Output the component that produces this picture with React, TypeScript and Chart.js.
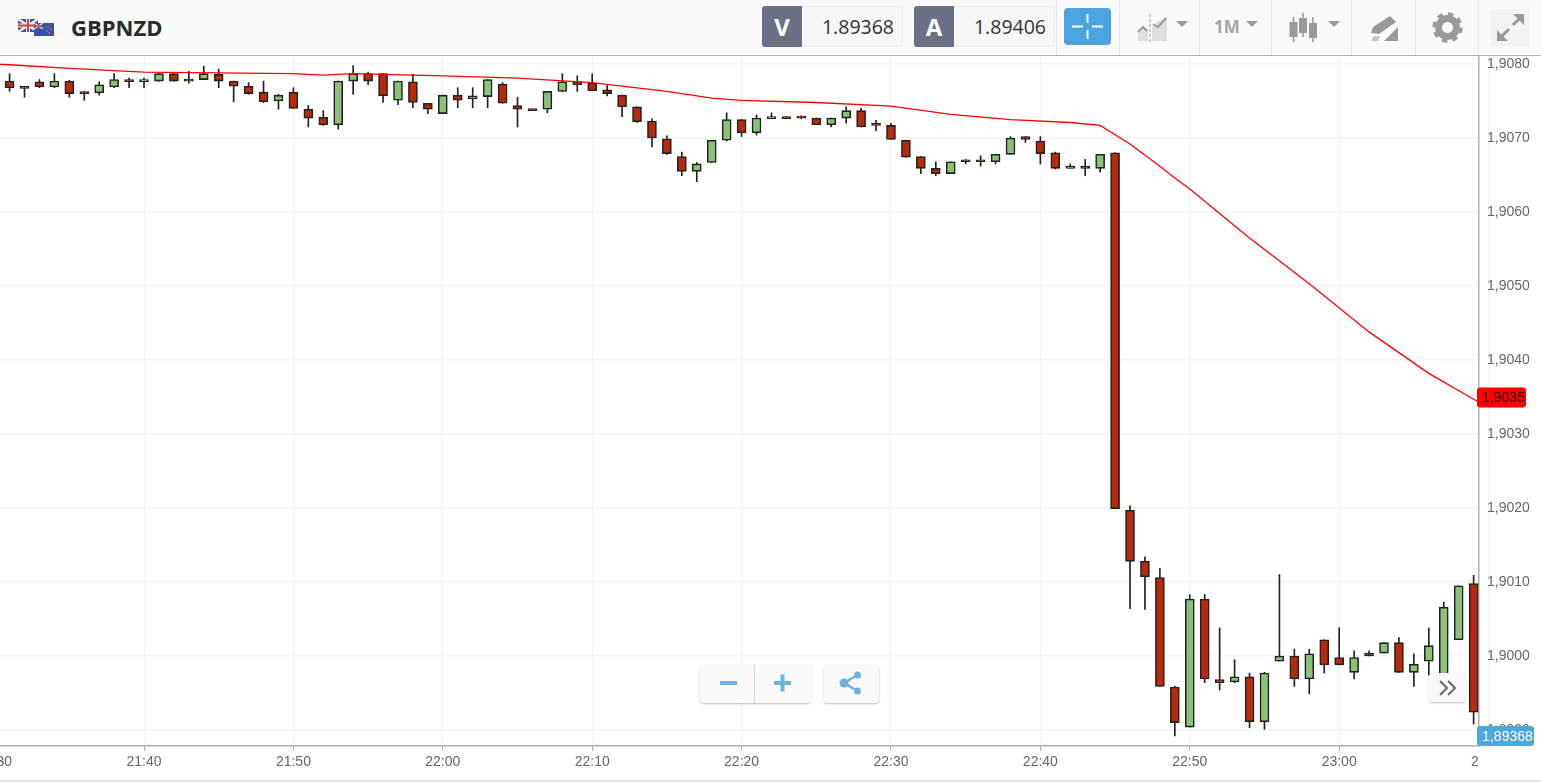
import React, { useEffect, useRef } from "react";
import { Chart, registerables } from "chart.js";

Chart.register(...registerables);

// Minutes since midnight for each candle: 21:31 .. 23:09
const candleStart = 1291;
const opens = [
  1.90777, 1.90768, 1.90776, 1.90769, 1.90777, 1.90761, 1.90761, 1.90769, 1.90779, 1.90776,
  1.90777, 1.90787, 1.90778, 1.90779, 1.90786, 1.90777, 1.90770, 1.90762, 1.90750, 1.90762,
  1.90739, 1.90728, 1.90718, 1.90777, 1.90787, 1.90787, 1.90751, 1.90776, 1.90747, 1.90733,
  1.90758, 1.90753, 1.90756, 1.90773, 1.90744, 1.90738, 1.90739, 1.90763, 1.90776, 1.90774,
  1.90765, 1.90758, 1.90742, 1.90723, 1.90699, 1.90675, 1.90655, 1.90667, 1.90697, 1.90725,
  1.90707, 1.90726, 1.90729, 1.90728, 1.90727, 1.90718, 1.90727, 1.90737, 1.90718, 1.90717,
  1.90697, 1.90675, 1.90659, 1.90652, 1.90669, 1.90669, 1.90668, 1.90678, 1.90702, 1.90696,
  1.90680, 1.90659, 1.90662, 1.90659, 1.90680, 1.90197, 1.90128, 1.90106, 1.89958, 1.89904,
  1.90077, 1.89968, 1.89965, 1.89972, 1.89911, 1.89993, 1.90000, 1.89969, 1.90022, 1.89998,
  1.89978, 1.90004, 1.90004, 1.90018, 1.89978, 1.89993, 1.89972, 1.90022, 1.90098,
];
const highs = [
  1.90787, 1.90768, 1.90779, 1.90787, 1.90778, 1.90763, 1.90776, 1.90787, 1.90781, 1.90781,
  1.90787, 1.90787, 1.90790, 1.90797, 1.90793, 1.90777, 1.90775, 1.90777, 1.90759, 1.90768,
  1.90744, 1.90737, 1.90777, 1.90798, 1.90789, 1.90787, 1.90777, 1.90786, 1.90747, 1.90758,
  1.90768, 1.90768, 1.90779, 1.90775, 1.90755, 1.90739, 1.90763, 1.90787, 1.90784, 1.90787,
  1.90771, 1.90758, 1.90742, 1.90726, 1.90703, 1.90681, 1.90667, 1.90697, 1.90734, 1.90725,
  1.90731, 1.90734, 1.90729, 1.90730, 1.90727, 1.90727, 1.90742, 1.90740, 1.90724, 1.90720,
  1.90697, 1.90675, 1.90668, 1.90668, 1.90671, 1.90676, 1.90678, 1.90702, 1.90702, 1.90702,
  1.90681, 1.90665, 1.90671, 1.90678, 1.90680, 1.90203, 1.90134, 1.90118, 1.89959, 1.90083,
  1.90083, 1.90038, 1.89995, 1.89977, 1.89978, 1.90110, 1.90009, 1.90009, 1.90022, 1.90038,
  1.90007, 1.90007, 1.90018, 1.90025, 1.90003, 1.90038, 1.90073, 1.90095, 1.90109,
];
const lows = [
  1.90763, 1.90755, 1.90768, 1.90768, 1.90755, 1.90751, 1.90758, 1.90768, 1.90768, 1.90768,
  1.90777, 1.90777, 1.90774, 1.90779, 1.90768, 1.90749, 1.90759, 1.90748, 1.90739, 1.90740,
  1.90715, 1.90717, 1.90712, 1.90759, 1.90772, 1.90748, 1.90745, 1.90741, 1.90733, 1.90733,
  1.90741, 1.90741, 1.90741, 1.90747, 1.90715, 1.90737, 1.90734, 1.90763, 1.90763, 1.90764,
  1.90757, 1.90729, 1.90721, 1.90688, 1.90678, 1.90649, 1.90641, 1.90667, 1.90696, 1.90702,
  1.90704, 1.90726, 1.90726, 1.90726, 1.90718, 1.90715, 1.90720, 1.90715, 1.90710, 1.90698,
  1.90674, 1.90652, 1.90649, 1.90652, 1.90665, 1.90662, 1.90665, 1.90678, 1.90694, 1.90665,
  1.90658, 1.90659, 1.90649, 1.90654, 1.90199, 1.90064, 1.90063, 1.89959, 1.89892, 1.89904,
  1.89964, 1.89954, 1.89964, 1.89903, 1.89901, 1.89993, 1.89959, 1.89949, 1.89977, 1.89988,
  1.89969, 1.90000, 1.90004, 1.89978, 1.89959, 1.89974, 1.89972, 1.90022, 1.89908,
];
const closes = [
  1.90768, 1.90767, 1.90769, 1.90777, 1.90760, 1.90760, 1.90772, 1.90779, 1.90776, 1.90779,
  1.90787, 1.90777, 1.90777, 1.90787, 1.90777, 1.90770, 1.90760, 1.90749, 1.90758, 1.90740,
  1.90727, 1.90718, 1.90777, 1.90787, 1.90777, 1.90757, 1.90777, 1.90748, 1.90739, 1.90758,
  1.90751, 1.90757, 1.90779, 1.90747, 1.90739, 1.90737, 1.90763, 1.90776, 1.90772, 1.90764,
  1.90760, 1.90742, 1.90722, 1.90700, 1.90679, 1.90655, 1.90665, 1.90697, 1.90725, 1.90707,
  1.90727, 1.90729, 1.90726, 1.90727, 1.90718, 1.90727, 1.90737, 1.90715, 1.90717, 1.90698,
  1.90674, 1.90659, 1.90652, 1.90668, 1.90668, 1.90668, 1.90678, 1.90700, 1.90698, 1.90679,
  1.90659, 1.90662, 1.90659, 1.90678, 1.90199, 1.90128, 1.90107, 1.89959, 1.89910, 1.90077,
  1.89969, 1.89964, 1.89972, 1.89911, 1.89977, 1.90000, 1.89969, 1.90003, 1.89988, 1.89988,
  1.89998, 1.90000, 1.90018, 1.89978, 1.89989, 1.90014, 1.90066, 1.90095, 1.89924,
];

const averageTimes = [
  1290, 1291, 1295, 1300, 1310, 1312, 1314, 1320, 1325, 1330, 1335, 1338, 1340, 1345, 1350,
  1354, 1358, 1362, 1364, 1366, 1368, 1369, 1370, 1374, 1378, 1382, 1386, 1389, 1389.5,
];
const averageValues = [
  1.908, 1.90799, 1.90794, 1.90789, 1.90787, 1.90785, 1.90787, 1.90784, 1.90781, 1.90775,
  1.90763, 1.90754, 1.90751, 1.90748, 1.90743, 1.90732, 1.90725, 1.90721, 1.90717, 1.90692,
  1.90662, 1.90646, 1.90631, 1.90565, 1.90503, 1.90438, 1.90382, 1.90347, 1.90342,
];

const yTicks = [1.908, 1.907, 1.906, 1.905, 1.904, 1.903, 1.902, 1.901, 1.9, 1.899];
const xTicks = [1290, 1300, 1310, 1320, 1330, 1340, 1350, 1360, 1370, 1380, 1390];

const symbol = "GBPNZD";
const sellPrice = "1.89368";
const buyPrice = "1.89406";
const averageTag = "1,9035";
const priceTag = "1,89368";

const GREEN = "#8cc277";
const RED = "#b82a0a";
const DARK = "#222222";
const GREY = "#666666";

const times = opens.map((_, i) => candleStart + i);
const clock = (m: number) =>
  `${String(Math.floor(m / 60)).padStart(2, "0")}:${String(m % 60).padStart(2, "0")}`;

const tagsPlugin = {
  id: "tags",
  afterDraw(chart: any) {
    const { ctx } = chart;
    ctx.save();
    // the chart's time axis stops at the price axis
    ctx.fillStyle = "#ffffff";
    ctx.fillRect(1479, 747, 62, 33);
    const tag = (x: number, y: number, w: number, h: number, textX: number, bg: string, fg: string, text: string) => {
      ctx.fillStyle = bg;
      ctx.beginPath();
      ctx.roundRect(x, y, w, h, 3);
      ctx.fill();
      ctx.fillStyle = fg;
      ctx.font = "14px 'Liberation Sans'";
      ctx.textAlign = "center";
      ctx.textBaseline = "middle";
      ctx.fillText(text, textX, y + h / 2 + 1);
    };
    const yScale = chart.scales.y;
    tag(1477, yScale.getPixelForValue(1.90350) - 9.5, 49, 20, 1503.5, "#ff0000", "#2a0000", averageTag);
    tag(1477, 726, 57, 20, 1507.5, "#4fa8dc", "#ffffff", priceTag);
    ctx.restore();
  },
};

const abs = (left: number, top: number, width: number, height: number, extra: React.CSSProperties = {}): React.CSSProperties => ({
  position: "absolute",
  left,
  top,
  width,
  height,
  ...extra,
});

const ICON = "#9a9a9a";

function PriceBox({ left, letter, price }: { left: number; letter: string; price: string }) {
  return (
    <div style={abs(left, 6, 141, 41, { background: "#f7f7f7", border: "1px solid #eeeeee", boxSizing: "border-box", borderRadius: 3 })}>
      <div style={abs(-1, -1, 40, 41, { background: "#6b7086", color: "#fff", fontFamily: "'Open Sans'", fontWeight: 700, fontSize: 24, lineHeight: "41px", textAlign: "center", borderRadius: "3px 0 0 3px" })}>
        {letter}
      </div>
      <div style={abs(40, 0, 91, 39, { color: "#333", fontFamily: "'Open Sans'", fontSize: 19.5, lineHeight: "40px", textAlign: "right" })}>
        {price}
      </div>
    </div>
  );
}

function Caret({ x }: { x: number }) {
  return <path d={`M${x} 21h12l-6 6z`} fill={ICON} />;
}

function Header() {
  return (
    <div style={abs(0, 0, 1541, 56, { background: "#fafafa", borderBottom: "1px solid #b8b8b8", boxSizing: "border-box" })}>
      <svg style={abs(0, 0, 70, 55)} viewBox="0 0 70 55">
        <rect x="18" y="19" width="20" height="13" fill="#3f4f8f" />
        <path d="M18 19l20 13M38 19l-20 13" stroke="#eee" strokeWidth="2.5" />
        <path d="M28 19v13M18 25.5h20" stroke="#eee" strokeWidth="4" />
        <path d="M28 19v13M18 25.5h20" stroke="#d23a44" strokeWidth="2" />
        <rect x="34" y="23" width="20" height="13" fill="#3552a8" />
        <path d="M34 23l9 6M43 23l-9 6" stroke="#ddd" strokeWidth="1.5" />
        <path d="M38.5 23v6M34 26h9" stroke="#d23a44" strokeWidth="1.2" />
        <circle cx="48" cy="27" r="0.9" fill="#e55" />
        <circle cx="51" cy="29" r="0.9" fill="#e55" />
        <circle cx="47" cy="31" r="0.9" fill="#e55" />
        <circle cx="49" cy="33" r="0.9" fill="#e55" />
      </svg>
      <div style={abs(71, 12, 120, 30, { color: "#2a2a2a", fontFamily: "'Open Sans'", fontWeight: 700, fontSize: 22, lineHeight: "30px" })}>
        {symbol}
      </div>
      <PriceBox left={762} letter="V" price={sellPrice} />
      <PriceBox left={914} letter="A" price={buyPrice} />
      <div style={abs(1064, 8, 47, 37, { background: "#4ba3e0", borderRadius: 4 })}>
        <svg width="47" height="37">
          <path d="M8 18.5h11M28 18.5h11M23.5 6v9M23.5 22v9" stroke="#fff" strokeWidth="2" />
        </svg>
      </div>
      {[1056, 1119, 1199, 1271, 1351, 1415, 1478].map((x) => (
        <div key={x} style={abs(x, 0, 1, 55, { background: "#e8e8e8" })} />
      ))}
      <svg style={abs(1120, 0, 421, 55)} viewBox="1120 0 421 55">
        <path d="M1138 41v-11l5-4 5 3v12zM1152 41V26l6-5 9-3v23z" fill="#dedede" />
        <path d="M1138 32l5-5 4 4M1153 24l5 3 8-9" fill="none" stroke={ICON} strokeWidth="2" />
        <path d="M1150 14v28" stroke={ICON} strokeWidth="1" strokeDasharray="3 2" />
        <Caret x={1176} />
        <Caret x={1246} />
        <path d="M1293.5 17v25M1303 13v24M1313 17v25" stroke={ICON} strokeWidth="1.6" />
        <rect x="1289.5" y="22" width="8" height="15" fill={ICON} />
        <rect x="1299" y="18" width="8" height="15" fill={ICON} />
        <rect x="1309" y="23" width="8" height="15" fill={ICON} />
        <Caret x={1328} />
        <path d="M1371 33l2-6 17-11 6 6-17 12z" fill={ICON} />
        <path d="M1371 41l3-5 6 0-2 5z" fill="#c4c4c4" />
        <path d="M1384 41l14-14v14z" fill={ICON} />
        <circle cx="1447.5" cy="27.5" r="9" fill="none" stroke={ICON} strokeWidth="7" />
        <circle cx="1447.5" cy="27.5" r="13.5" fill="none" stroke={ICON} strokeWidth="3.5" strokeDasharray="5.5 5.1" />
        <rect x="1491" y="9" width="38" height="37" fill="#f3f3f3" />
        <path d="M1501 37l8-8M1513 25l8-8" fill="none" stroke={ICON} strokeWidth="3" />
        <path d="M1513 14h11v11zM1497 30v11h11z" fill={ICON} />
      </svg>
      <div style={abs(1214, 15, 30, 24, { color: "#a5a5a5", fontFamily: "'Open Sans'", fontWeight: 700, fontSize: 17, lineHeight: "24px" })}>1M</div>
    </div>
  );
}

const floatBox = (left: number, top: number, width: number, height: number): React.CSSProperties =>
  abs(left, top, width, height, { background: "#fafafa", borderRadius: 4, boxShadow: "0 1px 2px rgba(0,0,0,0.25)" });

function Floating() {
  return (
    <>
      <div style={floatBox(700, 665, 111, 38)}>
        <svg width="111" height="38">
          <path d="M54.5 0v38" stroke="#d5d5d5" />
          <path d="M20 18h17M74 18h17M82.5 9.5v17" stroke="#6cb3df" strokeWidth="4" />
        </svg>
      </div>
      <div style={floatBox(824, 665, 55, 38)}>
        <svg width="55" height="38">
          <path d="M33.5 10L20 18l13.5 8" fill="none" stroke="#6cb3df" strokeWidth="2.5" />
          <circle cx="20" cy="18" r="4.5" fill="#6cb3df" />
          <circle cx="33.5" cy="10" r="3.5" fill="#6cb3df" />
          <circle cx="33.5" cy="26" r="3.5" fill="#6cb3df" />
        </svg>
      </div>
      <div style={floatBox(1429, 673, 37, 29)}>
        <svg width="37" height="29">
          <path d="M11 8l7 7-7 7M19 8l7 7-7 7" fill="none" stroke="#666" strokeWidth="2" />
        </svg>
      </div>
    </>
  );
}

export default function App() {
  const ref = useRef<HTMLCanvasElement | null>(null);

  useEffect(() => {
    document.body.style.margin = "0";
    const chart = new Chart(ref.current as HTMLCanvasElement, {
      type: "bar",
      data: {
        datasets: [
          {
            type: "line",
            data: averageTimes.map((x, i) => ({ x, y: averageValues[i] })),
            borderColor: "#ff0000",
            borderWidth: 1.3,
            pointRadius: 0,
            tension: 0,
            order: 0,
          },
          {
            type: "bar",
            data: times.map((x, i) => ({ x, y: [opens[i], closes[i]] })),
            backgroundColor: times.map((_, i) => (closes[i] >= opens[i] ? GREEN : RED)),
            borderColor: DARK,
            borderWidth: 1.6,
            borderSkipped: false,
            barThickness: 9,
            minBarLength: 2,
            grouped: false,
            order: 1,
          },
          {
            type: "bar",
            data: times.map((x, i) => ({ x, y: [lows[i], highs[i]] })),
            backgroundColor: DARK,
            borderWidth: 0,
            barThickness: 1,
            grouped: false,
            order: 2,
          },
        ],
      } as any,
      options: {
        animation: false,
        responsive: false,
        layout: { padding: { top: 55, left: 0, right: 0, bottom: 0 } },
        plugins: { legend: { display: false }, tooltip: { enabled: false } },
        scales: {
          x: {
            type: "linear",
            offset: false,
            min: 1290.36,
            max: 1389.36,
            position: "bottom",
            afterFit: (s: any) => {
              s.height = 36;
              s.paddingLeft = 0;
              s.paddingRight = 0;
            },
            afterBuildTicks: (s: any) => {
              s.ticks = xTicks.map((value) => ({ value }));
            },
            grid: { offset: false, color: "#f0f0f0", lineWidth: 1, tickColor: "#aaaaaa", tickLength: 5 },
            border: { color: "#b0b0b0", width: 1.5 },
            ticks: {
              autoSkip: false,
              maxRotation: 0,
              padding: 3,
              color: GREY,
              font: { family: "'Liberation Sans'", size: 14 },
              callback: (v: any) => clock(Number(v)),
            },
          },
          y: {
            type: "linear",
            position: "right",
            min: 1.898784,
            max: 1.908122,
            afterFit: (s: any) => {
              s.width = 62;
              s.paddingTop = 0;
              s.paddingBottom = 0;
            },
            afterBuildTicks: (s: any) => {
              s.ticks = yTicks.map((value) => ({ value }));
            },
            grid: { color: "#f3f3f3", lineWidth: 1.5, drawTicks: false },
            border: { color: "#b0b0b0", width: 1.5 },
            ticks: {
              autoSkip: false,
              padding: 8,
              color: GREY,
              font: { family: "'Liberation Sans'", size: 14 },
              callback: (v: any) => Number(v).toFixed(4).replace(".", ","),
            },
          },
        },
      } as any,
      plugins: [tagsPlugin] as any,
    });
    return () => chart.destroy();
  }, []);

  return (
    <div style={abs(0, 0, 1541, 782, { position: "fixed", background: "#fff", overflow: "hidden" })}>
      <canvas ref={ref} width={1541} height={782} style={{ position: "absolute", left: 0, top: 0, display: "block" }} />
      <Header />
      <Floating />
      <div style={abs(0, 780, 1541, 2, { background: "#e2e2e2" })} />
    </div>
  );
}
